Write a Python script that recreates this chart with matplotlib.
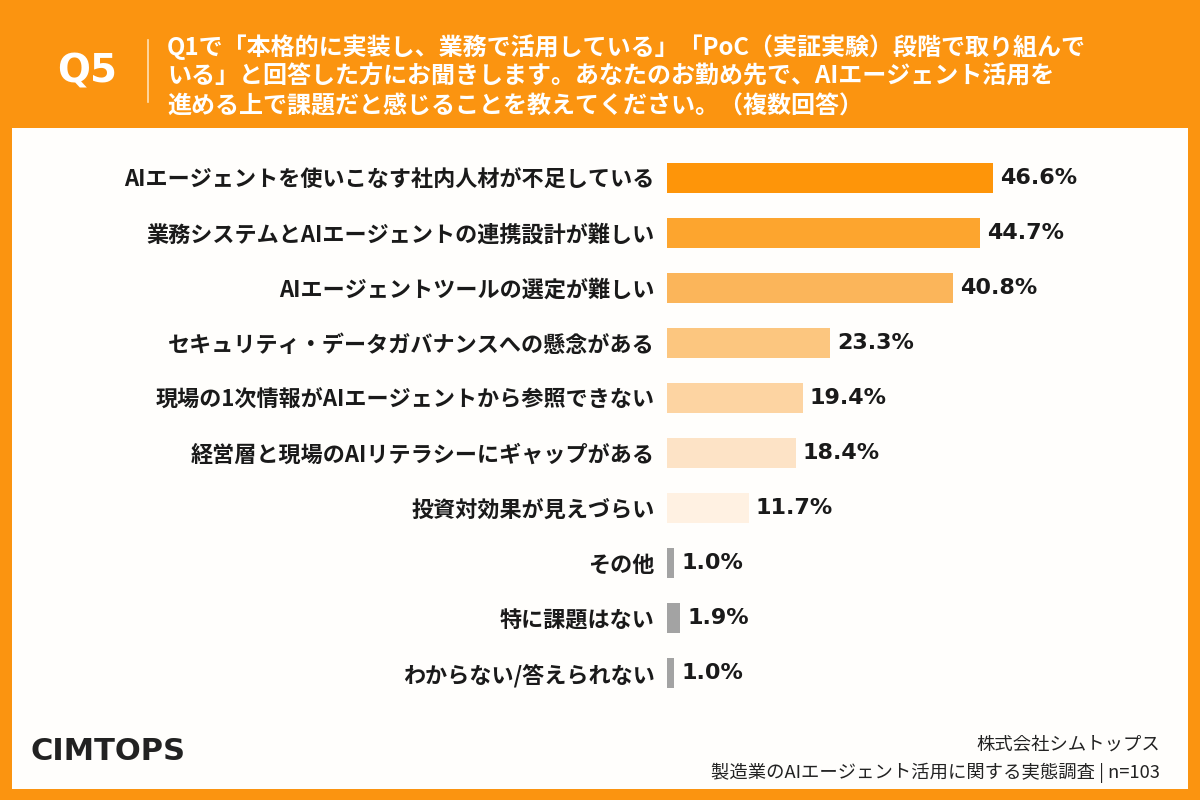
import matplotlib
matplotlib.use('Agg')
import matplotlib.pyplot as plt
from matplotlib.patches import Rectangle

plt.rcParams['font.family'] = ['Noto Sans CJK JP', 'DejaVu Sans']

# Data
categories = [
    'AIエージェントを使いこなす社内人材が不足している',
    '業務システムとAIエージェントの連携設計が難しい',
    'AIエージェントツールの選定が難しい',
    'セキュリティ・データガバナンスへの懸念がある',
    '現場の1次情報がAIエージェントから参照できない',
    '経営層と現場のAIリテラシーにギャップがある',
    '投資対効果が見えづらい',
    'その他',
    '特に課題はない',
    'わからない/答えられない',
]
values = [46.6, 44.7, 40.8, 23.3, 19.4, 18.4, 11.7, 1.0, 1.9, 1.0]
bar_colors = ['#FE9509', '#FDA52E', '#FBB55A', '#FCC67F', '#FDD4A2',
              '#FDE3C6', '#FFF1E2', '#A3A3A3', '#A3A3A3', '#A3A3A3']

title_lines = [
    'Q1で「本格的に実装し、業務で活用している」「PoC（実証実験）段階で取り組んで',
    'いる」と回答した方にお聞きします。あなたのお勤め先で、AIエージェント活用を',
    '進める上で課題だと感じることを教えてください。（複数回答）',
]

W, H = 1200, 800
orange = '#FB9410'
fig = plt.figure(figsize=(12, 8), dpi=100)
fig.patch.set_facecolor(orange)

def fx(px):
    return px / W

def fy(py):
    return 1 - py / H

# white panel (behind the axes)
fig.patches.append(Rectangle((fx(12), fy(789)), fx(1188) - fx(12), fy(128) - fy(789),
                             transform=fig.transFigure, facecolor='#FFFEFC',
                             edgecolor='none', zorder=-1))

# header
fig.text(fx(87), fy(72), 'Q5', color='white', fontsize=28, fontweight='bold',
         ha='center', va='center', family=['DejaVu Sans'])
fig.add_artist(plt.Line2D([fx(148), fx(148)], [fy(40), fy(102)],
                          transform=fig.transFigure, color='#FFE2B8', lw=1.2))
for i, line in enumerate(title_lines):
    fig.text(fx(167), fy(47 + i * 29.5), line, color='white', fontsize=17.3,
             fontweight='bold', ha='left', va='center')

# bar axes
px_per_unit = 7.0
ax_left, ax_right = 667, 1167
ax_top, ax_bottom = 150.5, 700.5
ax = fig.add_axes([fx(ax_left), fy(ax_bottom), fx(ax_right) - fx(ax_left),
                   fy(ax_top) - fy(ax_bottom)])
ax.set_zorder(2)
ax.set_facecolor('none')
ypos = list(range(len(categories)))
ax.barh(ypos, values, height=0.55, color=bar_colors, edgecolor='none')
ax.set_xlim(0, (ax_right - ax_left) / px_per_unit)
ax.set_ylim(len(categories) - 0.5, -0.5)
ax.set_yticks(ypos)
ax.set_yticklabels(categories, fontsize=15.9, fontweight='bold', color='#1A1A1A')
ax.tick_params(axis='y', length=0, pad=9)
ax.set_xticks([])
for s in ax.spines.values():
    s.set_visible(False)
for y, v in zip(ypos, values):
    ax.text(v + 1.0, y, f'{v:.1f}%', va='center', ha='left', fontsize=16,
            fontweight='bold', color='#1A1A1A', family=['DejaVu Sans'])

# footer
fig.text(fx(30), fy(752), 'CIMTOPS', color='#222222', fontsize=22,
         fontweight='bold', ha='left', va='center', family=['DejaVu Sans'])
fig.text(fx(1160), fy(745), '株式会社シムトップス', color='#222222', fontsize=13.2,
         ha='right', va='center')
fig.text(fx(1160), fy(773), '製造業のAIエージェント活用に関する実態調査 | n=103',
         color='#222222', fontsize=13.2, ha='right', va='center')

fig.savefig('out.png', dpi=100, facecolor=fig.get_facecolor())
